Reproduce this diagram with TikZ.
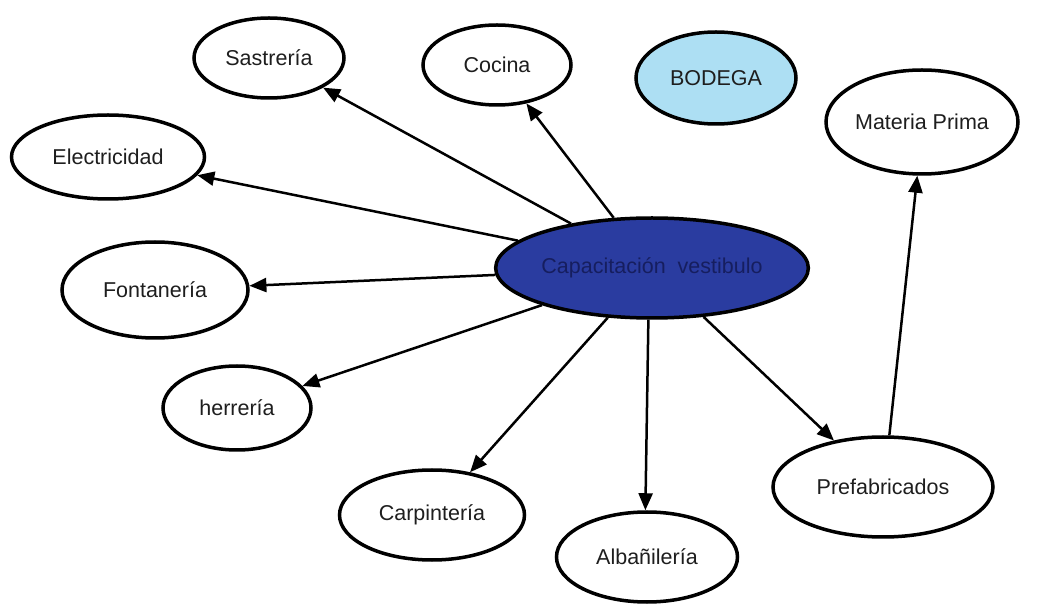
\documentclass[tikz,border=0pt]{standalone}
\usepackage{fontspec}
\setmainfont{Liberation Sans}
\usetikzlibrary{shapes.geometric,arrows.meta}
\definecolor{hubblue}{RGB}{42,60,160}
\definecolor{hubtext}{RGB}{22,30,95}
\definecolor{storeblue}{RGB}{173,223,243}
\definecolor{txt}{RGB}{30,30,30}
\tikzset{
  topic/.style={ellipse, draw=black, line width=3.5pt, fill=white, inner sep=0pt,
    font=\fontsize{21.5}{25}\selectfont, text=txt},
  link/.style={line width=2.5pt, -{Triangle[length=17pt,width=14pt]}},
}
\begin{document}
\begin{tikzpicture}[x=1pt,y=-1pt]
\useasboundingbox (0,0) rectangle (1045,609);
\node[topic, minimum width=150pt, minimum height=80pt] (sas) at (269,58) {Sastrería};
\node[topic, minimum width=148pt, minimum height=80pt] (coc) at (497,65) {Cocina};
\node[topic, fill=storeblue, minimum width=160pt, minimum height=92pt] (bod) at (716,78) {BODEGA};
\node[topic, minimum width=192pt, minimum height=104pt] (mat) at (922,122) {Materia Prima};
\node[topic, minimum width=193pt, minimum height=84pt] (ele) at (108,157) {Electricidad};
\node[topic, fill=hubblue, text=hubtext, minimum width=311pt, minimum height=100pt] (hub) at (652,268) {Capacitación\ \ vestibulo};
\node[topic, minimum width=186pt, minimum height=96pt] (fon) at (155,290) {Fontanería};
\node[topic, minimum width=148pt, minimum height=84pt] (her) at (237,408) {herrería};
\node[topic, minimum width=185pt, minimum height=90pt] (car) at (432,515) {Carpintería};
\node[topic, minimum width=181pt, minimum height=90pt] (alb) at (647,557) {Albañilería};
\node[topic, minimum width=220pt, minimum height=100pt] (pre) at (883,487) {Prefabricados};
\draw[link] (hub) -- (sas);
\draw[link] (hub) -- (coc);
\draw[link] (hub) -- (ele);
\draw[link] (hub) -- (fon);
\draw[link] (hub) -- (her);
\draw[link] (hub) -- (car);
\draw[link] (hub.266) -- (alb.92);
\draw[link] (hub) -- (pre);
\draw[link] (pre.83) -- (mat.265);
\end{tikzpicture}
\end{document}
